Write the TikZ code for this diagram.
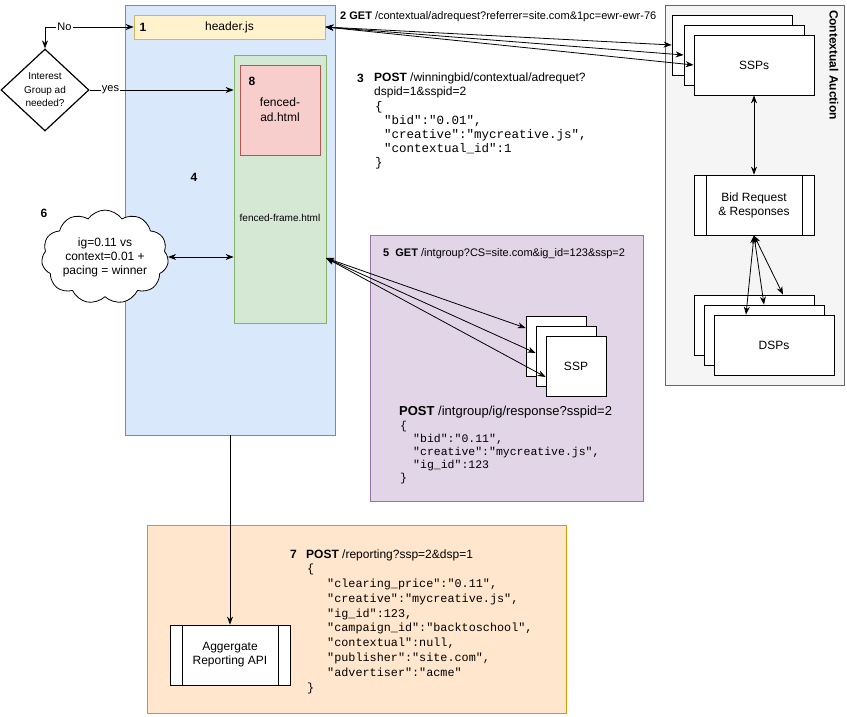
\documentclass[tikz,border=0pt]{standalone}
\usepackage{fontspec}
\setmainfont{Liberation Sans}
\setmonofont{Liberation Mono}
\usetikzlibrary{arrows.meta,shapes.geometric,shapes.symbols}

\definecolor{pagefill}{HTML}{DAE8FC}
\definecolor{pageline}{HTML}{6C8EBF}
\definecolor{hdrfill}{HTML}{FFF2CC}
\definecolor{hdrline}{HTML}{D6B656}
\definecolor{framefill}{HTML}{D5E8D4}
\definecolor{frameline}{HTML}{82B366}
\definecolor{adfill}{HTML}{F8CECC}
\definecolor{adline}{HTML}{B85450}
\definecolor{igfill}{HTML}{E1D5E7}
\definecolor{igline}{HTML}{9673A6}
\definecolor{rptfill}{HTML}{FFE6CC}
\definecolor{rptline}{HTML}{D79B00}
\definecolor{auctfill}{HTML}{F5F5F5}
\definecolor{auctline}{HTML}{666666}

\begin{document}
\begin{tikzpicture}[x=1pt,y=-1pt]
		\tikzstyle{panel}=[draw, line width=0.8pt, inner sep=0pt]
		\tikzstyle{box}=[draw, fill=white, line width=0.8pt, minimum width=120pt, minimum height=60pt, inner sep=0pt, align=center, font=\fontsize{12}{14}\selectfont]
		\tikzstyle{smallbox}=[box, minimum width=60pt]
		\tikzstyle{proc}=[box, path picture={\draw[line width=0.8pt] ([xshift=12pt]path picture bounding box.north west) -- ([xshift=12pt]path picture bounding box.south west) ([xshift=-12pt]path picture bounding box.north east) -- ([xshift=-12pt]path picture bounding box.south east);}]
		\tikzstyle{num}=[inner sep=0pt, font=\bfseries\fontsize{12}{14}\selectfont]
		\tikzstyle{txt}=[inner sep=0pt, anchor=base west, font=\fontsize{12}{14}\selectfont]
		\tikzstyle{code}=[inner sep=0pt, anchor=north west, align=left]
		\tikzstyle{conn}=[line width=0.8pt, -{Stealth[length=8pt,width=6pt]}]
		\tikzstyle{biconn}=[line width=0.8pt, {Stealth[length=8pt,width=6pt]}-{Stealth[length=8pt,width=6pt]}]
		
		\useasboundingbox (0,0) rectangle (847,717);
		
		\node[panel, fill=pagefill, draw=pageline, minimum width=210pt, minimum height=430pt] (page) at (230,220) {};
		\node[panel, fill=hdrfill, draw=hdrline, minimum width=191pt, minimum height=24pt, font=\fontsize{12}{14}\selectfont] (header) at (229.5,27) {header.js};
		\node[num] (n1) at (143,27) {1};
		\node[panel, fill=framefill, draw=frameline, minimum width=92pt, minimum height=268pt] (frame) at (280,189) {};
		\node[inner sep=0pt, font=\fontsize{10}{12}\selectfont] (framelbl) at (280,218) {fenced-frame.html};
		\node[panel, fill=adfill, draw=adline, minimum width=80pt, minimum height=90pt, align=center, font=\fontsize{12}{15}\selectfont] (fad) at (280,110) {fenced-\\ad.html};
		\node[num] (n8) at (252,81) {8};
		\node[num] (n4) at (194,177) {4};
		
		\node[diamond, draw, fill=white, line width=1.2pt, minimum width=88pt, minimum height=82pt, inner sep=0pt, align=center, font=\fontsize{10}{13.5}\selectfont] (igq) at (45,90) {Interest\\Group ad\\needed?};
		\draw[biconn] (header.west) -| (igq.north) node[pos=0.39, fill=white, inner sep=1pt, font=\fontsize{11}{13}\selectfont] {No};
		\draw[conn] (igq.east) -- (igq.east -| frame.west) node[pos=0.145, fill=white, inner sep=1pt, font=\fontsize{11}{13}\selectfont] {yes};
		
		\node[cloud, draw, fill=white, line width=0.8pt, cloud puffs=11, cloud puff arc=110, aspect=1.5, minimum width=127pt, minimum height=88pt, inner sep=0pt, align=center, font=\fontsize{12}{14}\selectfont] (pacing) at (105,257) {ig=0.11 vs\\context=0.01 +\\pacing = winner};
		\node[num] (n6) at (44,213) {6};
		\draw[biconn] (pacing.east) -- (pacing.east -| frame.west);
		
		\node[panel, fill=auctfill, draw=auctline, minimum width=179pt, minimum height=380pt] (auction) at (754.5,195) {};
		\node[rotate=-90, inner sep=0pt, font=\bfseries\fontsize{12}{14}\selectfont] (auctlbl) at (834,65) {Contextual Auction};
		\node[box] (ctx1) at (732,45) {};
		\node[box] (ctx2) at (744,55) {};
		\node[box] (ctx3) at (754,65) {SSPs};
		\node[proc] (bid) at (754,205) {Bid Request\\\& Responses};
		\node[box] (dsp1) at (754,325) {};
		\node[box] (dsp2) at (764,335) {};
		\node[box] (dsp3) at (774,345) {DSPs};
		
		\draw[biconn] (header.east) -- (ctx1.west);
		\draw[biconn] (header.east) -- (ctx2.west);
		\draw[biconn] (header.east) -- (ctx3.west);
		\draw[biconn] (ctx3.south) -- (bid.north);
		\draw[biconn] (bid.south) -- ([xshift=-28pt]dsp3.north);
		\draw[biconn] (bid.south) -- (dsp2.north);
		\draw[biconn] (bid.south) -- ([xshift=29pt]dsp1.north);
		
		\node[txt, font=\fontsize{11}{13}\selectfont] (getctx) at (340,20) {\textbf{2 GET} /contextual/adrequest?referrer=site.com\&1pc=ewr-ewr-76};
		\node[num, anchor=base west] (n3) at (357,83) {3};
		\node[code, font=\fontsize{12}{14}\selectfont] (postwin) at (374,73) {\textbf{POST} /winningbid/contextual/adrequet?\\dspid=1\&sspid=2};
		\node[code, font=\ttfamily\fontsize{12.5}{14}\selectfont] (bidwin) at (375,101) {\{\\\hspace*{9pt}"bid":"0.01",\\\hspace*{9pt}"creative":"mycreative.js",\\\hspace*{9pt}"contextual\_id":1\\\}};
		
		\node[panel, fill=igfill, draw=igline, minimum width=273pt, minimum height=266pt] (igpanel) at (506.5,368) {};
		\node[txt, font=\fontsize{11}{13}\selectfont] (getig) at (383,256) {\textbf{5\ \ GET} /intgroup?CS=site.com\&ig\_id=123\&ssp=2};
		\node[smallbox] (ig1) at (556,346) {};
		\node[smallbox] (ig2) at (566,356) {};
		\node[smallbox] (ig3) at (576,366) {SSP};
		\coordinate (ffport) at (326,258);
		\draw[biconn] (ffport) -- ([yshift=18pt]ig1.west);
		\draw[biconn] (ffport) -- ([yshift=3pt]ig2.west);
		\draw[biconn] (ffport) -- ([yshift=-11pt]ig3.west);
		\node[txt, font=\fontsize{13}{15}\selectfont] (postig) at (399,415) {\textbf{POST} /intgroup/ig/response?sspid=2};
		\node[code, font=\ttfamily\fontsize{11.5}{13}\selectfont] (bidig) at (400,421) {\{\\\hspace*{13pt}"bid":"0.11",\\\hspace*{13pt}"creative":"mycreative.js",\\\hspace*{13pt}"ig\_id":123\\\}};
		
		\node[panel, fill=rptfill, draw=rptline, minimum width=419pt, minimum height=188pt] (rptpanel) at (356.5,619) {};
		\node[proc] (agg) at (230,655) {Aggergate\\Reporting API};
		\draw[conn] (page.south) -- (agg.north);
		\node[num, anchor=base west] (n7) at (290,558) {7};
		\node[txt] (postrpt) at (306,558) {\textbf{POST} /reporting?ssp=2\&dsp=1};
		\node[code, font=\ttfamily\fontsize{11.8}{14.8}\selectfont] (bidrpt) at (307,564) {\{\\\hspace*{20pt}"clearing\_price":"0.11",\\\hspace*{20pt}"creative":"mycreative.js",\\\hspace*{20pt}"ig\_id":123,\\\hspace*{20pt}"campaign\_id":"backtoschool",\\\hspace*{20pt}"contextual":null,\\\hspace*{20pt}"publisher":"site.com",\\\hspace*{20pt}"advertiser":"acme"\\\}};
\end{tikzpicture}
\end{document}
